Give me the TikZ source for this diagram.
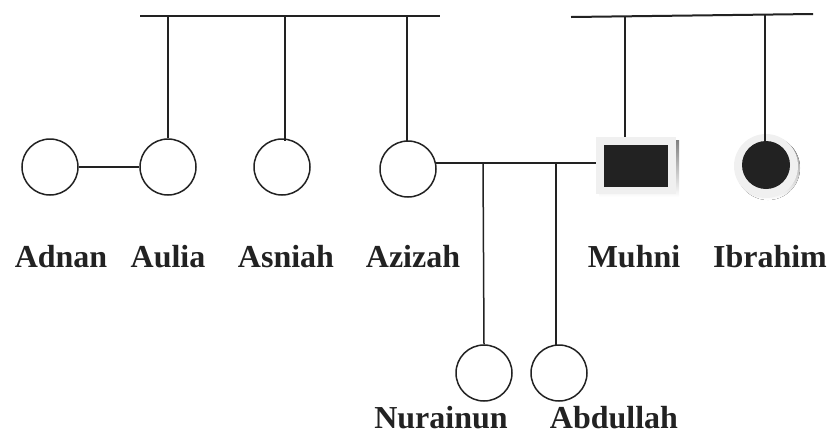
\documentclass[tikz,border=0pt]{standalone}
\usepackage{fontspec}
\setmainfont{Liberation Serif}
\definecolor{ink}{HTML}{222222}
\definecolor{ring}{HTML}{F0F0F0}
\definecolor{shade}{HTML}{D0D0D0}
\begin{document}
\begin{tikzpicture}[x=1pt,y=-1pt,
  line/.style={draw=ink,line width=1.5pt},
  person/.style={circle,draw=ink,line width=1.5pt,minimum size=56pt,inner sep=0pt,fill=white},
  lbl/.style={anchor=base,font=\bfseries\fontsize{32}{36}\selectfont,text=ink,inner sep=0pt}]
\useasboundingbox (0,0) rectangle (827,432);
% top sibling bars
\coordinate (tl1) at (140,16); \coordinate (tl2) at (440,16);
\coordinate (tr1) at (571,17); \coordinate (tr2) at (813,14);
\draw[line,line width=2pt] (tl1) -- (tl2);
\draw[line,line width=2pt] (tr1) -- (tr2);
% persons
\node[person] (adnan) at (50,167) {};
\node[person] (aulia) at (168,167) {};
\node[person] (asniah) at (282,167) {};
\node[person] (azizah) at (408,169) {};
\node[person] (nurainun) at (484,373) {};
\node[person] (abdullah) at (559,373) {};
% Muhni
\fill[shade] (599,140) rectangle (679,197);
\node[draw=none,fill=ring,minimum width=80pt,minimum height=57pt,inner sep=0pt] (muhni) at (636,165.5) {};
\fill[ink] (604,145) rectangle (668,187);
% Ibrahim
\fill[shade] (768,168) circle[radius=32];
\node[circle,fill=ring,minimum size=64pt,inner sep=0pt] (ibrahim) at (766,166) {};
\fill[ink] (766,165) circle[radius=24];
% connectors
\coordinate (va) at (168,16); \coordinate (vs) at (285,16); \coordinate (vz) at (407,16);
\coordinate (vm) at (625,16); \coordinate (vi) at (765,15);
\draw[line] (va) -- (aulia.north);
\draw[line] (vs) -- (285,141);
\draw[line] (vz) -- (407,141);
\draw[line] (vm) -- (625,137);
\draw[line] (vi) -- (765,141);
\draw[line] (adnan.east) -- (aulia.west);
\coordinate (m) at (436,163);
\draw[line] (m) -- (596,163);
\coordinate (c1) at (483,163); \coordinate (c2) at (556,163);
\draw[line] (c1) -- (nurainun.north);
\draw[line] (c2) -- (556,345);
% labels
\node[lbl] (l1) at (61,267) {Adnan};
\node[lbl] (l2) at (168,267) {Aulia};
\node[lbl] (l3) at (286,267) {Asniah};
\node[lbl] (l4) at (413,267) {Azizah};
\node[lbl] (l5) at (634,267) {Muhni};
\node[lbl] (l6) at (770,267) {Ibrahim};
\node[lbl] (l7) at (441,428) {Nurainun};
\node[lbl] (l8) at (614,428) {Abdullah};
\end{tikzpicture}
\end{document}
